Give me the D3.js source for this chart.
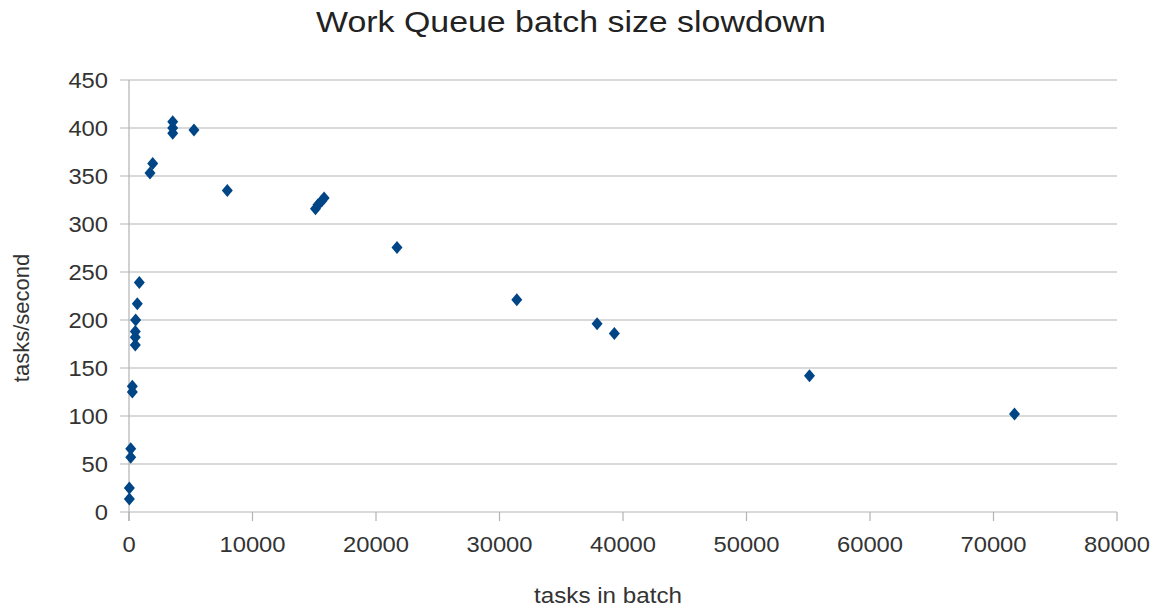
<!DOCTYPE html>
<html><head><meta charset="utf-8">
<script src="https://cdn.jsdelivr.net/npm/d3@7"></script>
<style>body{margin:0;background:#fff;}svg{display:block;font-family:"Liberation Sans",Arial,sans-serif;}</style>
</head><body>
<svg id="c" width="1155" height="608"></svg>
<script>
const batchSizes = [30, 30, 140, 140, 270, 270, 510, 510, 510, 540, 672, 835, 1700, 1920, 3540, 3540, 3540, 5260, 7960, 15100, 15300, 15600, 15800, 21700, 31400, 37900, 39300, 55100, 71700];
const tasksPerSecond = [13.5, 25, 57, 66, 125, 131, 174, 182, 188, 200, 217, 239, 353, 363, 394.5, 400, 406.5, 398, 335, 316, 320, 324, 327, 275.5, 221, 196, 186, 142, 102];
const xTicks = [0, 10000, 20000, 30000, 40000, 50000, 60000, 70000, 80000];
const yTicks = [0, 50, 100, 150, 200, 250, 300, 350, 400, 450];

const svg = d3.select("#c");
const L = 129, R = 1117, T = 80, B = 512;
const x = d3.scaleLinear().domain([0, 80000]).range([L, R]);
const y = d3.scaleLinear().domain([0, 450]).range([B, T]);
const grid = "#b3b3b3";
const SX = 1.08;

svg.append("g").selectAll("line").data(yTicks).join("line")
  .attr("x1", L - 9).attr("x2", R).attr("y1", d => y(d)).attr("y2", d => y(d))
  .attr("stroke", grid).attr("stroke-width", 1.2);
svg.append("line").attr("x1", L).attr("x2", L).attr("y1", T).attr("y2", B + 9)
  .attr("stroke", grid).attr("stroke-width", 1.2);
svg.append("g").selectAll("line").data(xTicks).join("line")
  .attr("x1", d => x(d)).attr("x2", d => x(d)).attr("y1", B).attr("y2", B + 9)
  .attr("stroke", grid).attr("stroke-width", 1.2);

svg.append("g").selectAll("text").data(yTicks).join("text")
  .attr("transform", d => `translate(${L - 21},${y(d)}) scale(${SX},1)`).attr("dy", "0.35em")
  .attr("text-anchor", "end").attr("font-size", 22).attr("fill", "#333")
  .text(d => d);
svg.append("g").selectAll("text").data(xTicks).join("text")
  .attr("transform", d => `translate(${x(d)},544) scale(${SX},1)`).attr("dy", "0.35em")
  .attr("text-anchor", "middle").attr("font-size", 22).attr("fill", "#333")
  .text(d => d);

const diamond = "M0,-6.5L5.5,0L0,6.5L-5.5,0Z";
svg.append("g").selectAll("path").data(batchSizes.map((b, i) => [b, tasksPerSecond[i]])).join("path")
  .attr("d", diamond)
  .attr("transform", d => `translate(${x(d[0])},${y(d[1])})`)
  .attr("fill", "#004586");

svg.append("text").attr("transform", "translate(571,32) scale(1.13,1)").attr("text-anchor", "middle")
  .attr("font-size", 30).attr("fill", "#222").text("Work Queue batch size slowdown");
svg.append("text").attr("transform", "translate(608,603) scale(1.1,1)").attr("text-anchor", "middle")
  .attr("font-size", 22).attr("fill", "#333").text("tasks in batch");
svg.append("text").attr("transform", "translate(29,318) rotate(-90)").attr("text-anchor", "middle")
  .attr("font-size", 22).attr("fill", "#333").text("tasks/second");
</script>
</body></html>
